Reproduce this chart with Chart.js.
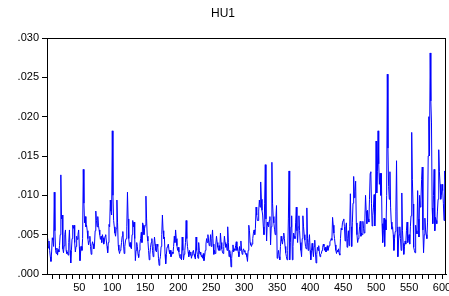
<!DOCTYPE html>
<html>
<head>
<meta charset="utf-8">
<script src="https://cdn.jsdelivr.net/npm/chart.js@4"></script>
<style>
  html, body { margin: 0; padding: 0; background: #fff; }
  #wrap { width: 449px; height: 296px; }
</style>
</head>
<body>
<div id="wrap"><canvas id="hu1-chart" width="449" height="296"></canvas></div>
<script>
const hu1 = [
  .0045, .0040, .0033, .0042, .0030, .0022, .0016, .0028, .0046, .0043,
  .0035, .0104, .0055, .0030, .0026, .0033, .0024, .0031, .0028, .0036,
  .0050, .0126, .0070, .0075, .0032, .0027, .0036, .0050, .0056, .0030,
  .0026, .0028, .0024, .0040, .0056, .0030, .0014, .0030, .0045, .0062,
  .0058, .0062, .0040, .0028, .0035, .0048, .0044, .0050, .0056, .0035,
  .0017, .0028, .0035, .0030, .0045, .0133, .0090, .0065, .0073, .0060,
  .0062, .0055, .0045, .0037, .0042, .0048, .0035, .0025, .0036, .0041,
  .0038, .0032, .0037, .0055, .0080, .0068, .0060, .0073, .0062, .0056,
  .0050, .0044, .0048, .0040, .0050, .0046, .0038, .0042, .0048, .0050,
  .0042, .0035, .0027, .0040, .0063, .0060, .0094, .0080, .0075, .0182,
  .0100, .0068, .0060, .0052, .0048, .0058, .0094, .0065, .0037, .0030,
  .0026, .0030, .0032, .0040, .0048, .0054, .0038, .0026, .0035, .0042,
  .0045, .0060, .0104, .0070, .0045, .0035, .0040, .0034, .0032, .0050,
  .0068, .0060, .0066, .0045, .0017, .0030, .0040, .0035, .0025, .0021,
  .0030, .0038, .0045, .0053, .0040, .0065, .0062, .0050, .0058, .0062,
  .0099, .0070, .0048, .0042, .0030, .0018, .0025, .0034, .0040, .0045,
  .0030, .0022, .0035, .0047, .0038, .0030, .0028, .0038, .0035, .0020,
  .0011, .0018, .0022, .0035, .0050, .0075, .0055, .0045, .0047, .0025,
  .0013, .0025, .0034, .0036, .0038, .0030, .0026, .0030, .0022, .0024,
  .0028, .0026, .0035, .0048, .0040, .0056, .0045, .0036, .0030, .0034,
  .0028, .0022, .0020, .0025, .0018, .0047, .0030, .0018, .0025, .0030,
  .0040, .0068, .0045, .0035, .0028, .0022, .0030, .0024, .0028, .0020,
  .0024, .0028, .0030, .0025, .0022, .0019, .0047, .0030, .0025, .0020,
  .0040, .0030, .0025, .0028, .0022, .0024, .0020, .0026, .0017, .0022,
  .0030, .0038, .0045, .0040, .0050, .0042, .0036, .0040, .0050, .0035,
  .0045, .0056, .0038, .0025, .0030, .0026, .0038, .0048, .0040, .0034,
  .0030, .0036, .0030, .0052, .0040, .0032, .0028, .0026, .0035, .0048,
  .0040, .0034, .0038, .0030, .0060, .0040, .0022, .0030, .0026, .0009,
  .0020, .0030, .0037, .0028, .0032, .0030, .0036, .0041, .0030, .0034,
  .0028, .0022, .0035, .0030, .0042, .0030, .0025, .0030, .0032, .0028,
  .0030, .0025, .0026, .0022, .0016, .0030, .0062, .0055, .0040, .0037,
  .0035, .0038, .0045, .0052, .0056, .0050, .0058, .0085, .0075, .0068,
  .0068, .0080, .0094, .0085, .0117, .0095, .0081, .0075, .0060, .0050,
  .0090, .0139, .0070, .0042, .0066, .0062, .0060, .0068, .0073, .0037,
  .0060, .0142, .0090, .0073, .0065, .0057, .0050, .0070, .0087, .0020,
  .0025, .0030, .0022, .0018, .0035, .0048, .0042, .0038, .0045, .0052,
  .0045, .0035, .0027, .0022, .0018, .0030, .0070, .0131, .0018, .0040,
  .0060, .0074, .0018, .0035, .0052, .0048, .0045, .0065, .0085, .0055,
  .0040, .0060, .0074, .0055, .0040, .0030, .0022, .0045, .0074, .0060,
  .0050, .0043, .0035, .0032, .0084, .0045, .0030, .0040, .0050, .0030,
  .0018, .0030, .0039, .0030, .0022, .0035, .0043, .0028, .0014, .0025,
  .0034, .0030, .0036, .0028, .0022, .0025, .0026, .0030, .0034, .0038,
  .0035, .0030, .0034, .0028, .0032, .0036, .0030, .0033, .0036, .0041,
  .0042, .0045, .0043, .0072, .0062, .0052, .0045, .0037, .0030, .0026,
  .0030, .0028, .0032, .0026, .0024, .0045, .0058, .0056, .0065, .0068,
  .0070, .0060, .0042, .0060, .0065, .0034, .0045, .0055, .0036, .0060,
  .0102, .0060, .0035, .0065, .0090, .0124, .0097, .0105, .0118, .0065,
  .0050, .0040, .0045, .0050, .0060, .0067, .0048, .0052, .0050, .0067,
  .0058, .0052, .0070, .0100, .0080, .0064, .0081, .0070, .0066, .0095,
  .0128, .0130, .0090, .0061, .0074, .0085, .0101, .0061, .0080, .0169,
  .0103, .0130, .0182, .0140, .0114, .0128, .0100, .0128, .0064, .0040,
  .0055, .0071, .0035, .0069, .0056, .0100, .0254, .0160, .0111, .0095,
  .0130, .0085, .0066, .0057, .0060, .0050, .0030, .0045, .0054, .0080,
  .0144, .0060, .0022, .0042, .0050, .0060, .0045, .0030, .0103, .0055,
  .0039, .0025, .0035, .0042, .0038, .0055, .0066, .0040, .0045, .0050,
  .0038, .0060, .0074, .0180, .0120, .0089, .0034, .0030, .0027, .0062,
  .0055, .0051, .0106, .0070, .0047, .0100, .0085, .0094, .0120, .0136,
  .0056, .0027, .0050, .0071, .0056, .0050, .0045, .0066, .0150, .0200,
  .0150, .0281, .0220, .0192, .0084, .0064, .0100, .0133, .0055, .0072,
  .0068, .0064, .0080, .0095, .0158, .0130, .0114, .0095, .0100, .0114,
  .0106, .0090, .0068, .0131, .0120, .0164
];

const yTicks = [0, .005, .010, .015, .020, .025, .030];
const xTicks = [];          // minor ticks every 10 obs, labels every 50
for (let v = 10; v <= 600; v += 10) xTicks.push(v);
const xLabelEvery = 50;

// box around the plot area, like the original
const frame = {
  id: 'frame',
  afterDraw(chart) {
    const a = chart.chartArea;
    const c = chart.ctx;
    c.save();
    c.strokeStyle = '#000';
    c.lineWidth = 1;
    c.strokeRect(Math.round(a.left) + 0.5, Math.round(a.top) + 0.5,
      Math.round(a.right - a.left) - 1, Math.round(a.bottom - a.top));
    c.restore();
  }
};

const ctx = document.getElementById('hu1-chart').getContext('2d');

new Chart(ctx, {
  type: 'line',
  data: {
    datasets: [{
      label: 'HU1',
      data: hu1.map((v, i) => ({ x: i + 1, y: v })),
      borderColor: '#0000ff',
      borderWidth: 1,
      pointRadius: 0,
      tension: 0,
      fill: false
    }]
  },
  options: {
    responsive: false,
    animation: false,
    layout: { padding: { left: 0, right: 3, top: 0, bottom: 0 } },
    plugins: {
      legend: { display: false },
      tooltip: { enabled: false },
      title: {
        display: true,
        text: 'HU1',
        color: '#000',
        font: { family: 'Arial, "Liberation Sans"', size: 12, weight: 'normal' },
        padding: { top: 6, bottom: 17.6 }
      }
    },
    scales: {
      x: {
        type: 'linear',
        min: 1,
        max: 606,
        grid: { drawOnChartArea: false, drawTicks: true, tickLength: 5, color: '#000' },
        border: { display: true, color: '#000' },
        ticks: {
          autoSkip: false,
          maxRotation: 0,
          padding: 2,
          color: '#000',
          font: { family: 'Arial, "Liberation Sans"', size: 11 },
          callback: (v) => (v % xLabelEvery === 0 ? String(v) : '')
        },
        afterBuildTicks: (scale) => {
          scale.ticks = xTicks.map(v => ({ value: v }));
        },
        afterFit: (scale) => {
          scale.height = 22;
          scale.paddingLeft = 0;
          scale.paddingRight = 0;
        }
      },
      y: {
        min: 0,
        max: 0.03,
        grid: { drawOnChartArea: false, drawTicks: true, tickLength: 5, color: '#000' },
        border: { display: true, color: '#000' },
        afterBuildTicks: (scale) => {
          scale.ticks = yTicks.map(v => ({ value: v }));
        },
        ticks: {
          padding: 3,
          color: '#000',
          font: { family: 'Arial, "Liberation Sans"', size: 11 },
          callback: (v) => v.toFixed(3).replace(/^0/, '')
        },
        afterFit: (scale) => {
          scale.width = 47;
          scale.paddingTop = 0;
          scale.paddingBottom = 0;
        }
      }
    }
  },
  plugins: [frame]
});
</script>
</body>
</html>
